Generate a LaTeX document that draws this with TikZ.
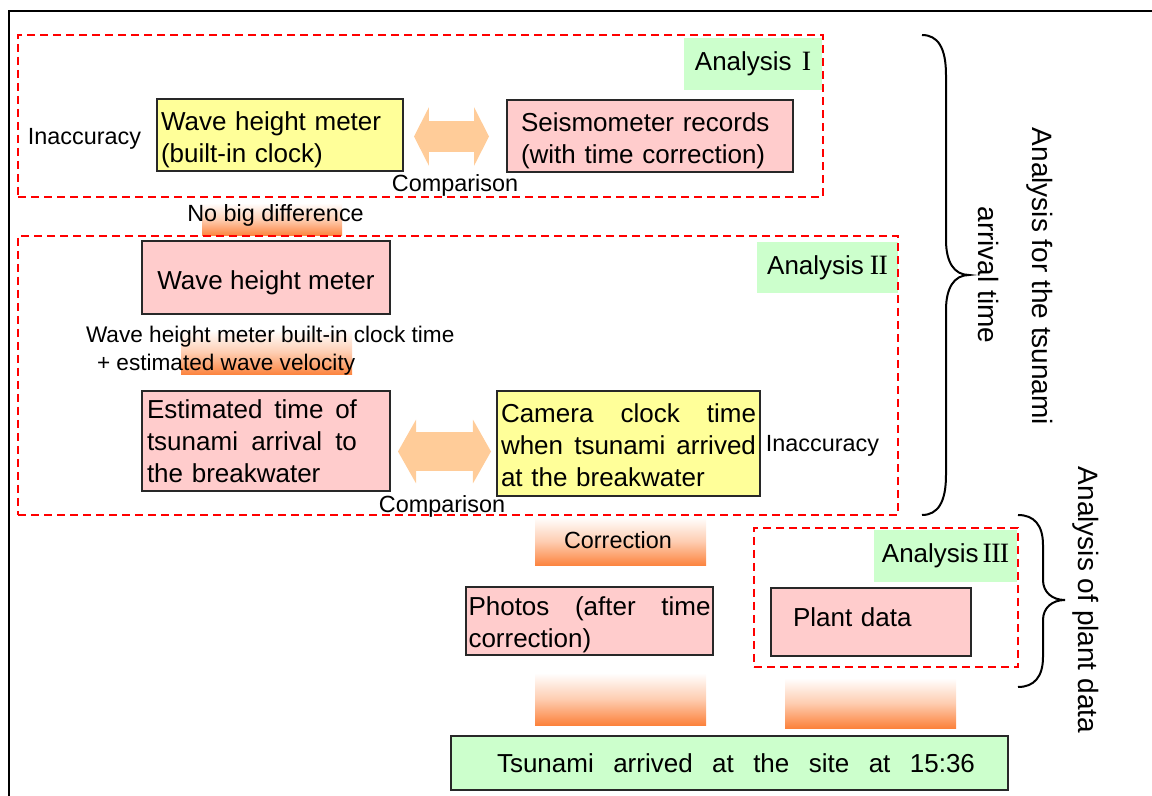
\documentclass[tikz,border=0pt]{standalone}
\usepackage{fontspec}
\setmainfont{Liberation Sans}
\newfontfamily\rmn{Liberation Serif}
\usetikzlibrary{shapes.arrows}
\definecolor{pinkf}{RGB}{255,204,204}
\definecolor{yelf}{RGB}{255,255,153}
\definecolor{grnf}{RGB}{204,255,204}
\definecolor{peach}{RGB}{255,204,153}
\definecolor{orng}{RGB}{252,130,60}
\definecolor{bord}{RGB}{40,40,40}
\newcommand\rnum[1]{{\rmn\fontsize{14}{16}\selectfont #1}}
\newcommand\spread[2]{\leavevmode\makebox[#1][l]{#2}}
\begin{document}
\begin{tikzpicture}[x=0.5pt,y=-0.5pt,
  every node/.style={font=\fontsize{13}{16}\selectfont, inner sep=0pt, outer sep=0pt},
  box/.style={draw=bord, line width=0.75pt},
  pinkbox/.style={box, fill=pinkf},
  yelbox/.style={box, fill=yelf},
  grnlab/.style={fill=grnf},
  dashbox/.style={draw=red, line width=1pt, dash pattern=on 4pt off 2.5pt},
  small/.style={font=\fontsize{11.7}{14}\selectfont},
  gradbar/.style={top color=white, bottom color=orng, middle color=orng!40},
  dblarr/.style={double arrow, fill=peach, draw=none, inner xsep=0pt},
  bracepath/.style={line width=1pt, draw=black},
  rottext/.style={font=\fontsize{14}{16}\selectfont, rotate=-90}
]
\useasboundingbox (0,0) rectangle (1152,796);

% gradient bars
\node[gradbar, minimum width=70pt, minimum height=16.5pt] (bar0) at (272,219.5) {};
\node[gradbar, minimum width=85.5pt, minimum height=22.5pt] (barw) at (266.5,352.5) {};
\node[gradbar, minimum width=85.5pt, minimum height=24.5pt] (barc) at (620.5,541.5) {};
\node[gradbar, minimum width=85.5pt, minimum height=26pt] (barp) at (620.5,699) {};
\node[gradbar, minimum width=85.5pt, minimum height=25pt] (barq) at (870.5,703) {};

% green labels
\node[grnlab, minimum width=69pt, minimum height=26pt] (anI) at (753,64) {Analysis\hspace{5pt}\rnum{I}};
\node[grnlab, minimum width=70.5pt, minimum height=25.5pt] (anII) at (827.5,267.5) {Analysis\hspace{3pt}\rnum{I\kern-0.4pt I}};
\node[grnlab, minimum width=71.5pt, minimum height=26pt] (anIII) at (945.5,556) {Analysis\hspace{2pt}\rnum{I\kern-0.4pt I\kern-0.4pt I}};

% dashed groups
\node[dashbox, minimum width=402.5pt, minimum height=81pt] (dI) at (420.5,116) {};
\node[dashbox, minimum width=440pt, minimum height=139.5pt] (dII) at (458,375.5) {};
\node[dashbox, minimum width=132pt, minimum height=69.5pt] (dIII) at (886,597.5) {};

% boxes
\node[yelbox, minimum width=123pt, minimum height=36pt, text width=119pt, align=left, text height=14.5pt] (wm1) at (280,135)
  {Wave height meter\\(built-in clock)};
\node[pinkbox, minimum width=143pt, minimum height=36pt, text width=129pt, align=left, text height=14.5pt] (seis) at (650,136)
  {Seismometer records\\(with time correction)};
\node[pinkbox, minimum width=124pt, minimum height=36.5pt, text height=14.5pt, text depth=2.7pt] (wm2) at (266,277.5)
  {Wave height meter};
\node[pinkbox, minimum width=124pt, minimum height=50pt, text width=119pt, align=left] (est) at (266,441)
  {\spread{105pt}{Estimated\hfill time\hfill of}\\\spread{105pt}{tsunami\hfill arrival\hfill to}\\the breakwater};
\node[yelbox, minimum width=131.5pt, minimum height=52.5pt, text width=127.5pt, align=left, text height=11.5pt] (cam) at (628.5,443.5)
  {\spread{127.5pt}{Camera\hfill clock\hfill time}\\\spread{127.5pt}{when\hfill tsunami\hfill arrived}\\at the breakwater};
\node[pinkbox, minimum width=123.5pt, minimum height=34pt, text width=121pt, align=left, text height=13.5pt] (photo) at (589.5,621)
  {\spread{121pt}{Photos\hfill (after\hfill time}\\correction)};
\node[pinkbox, minimum width=100pt, minimum height=34pt, text width=78pt, align=left, text height=9.5pt, text depth=4.7pt] (plant) at (871,622)
  {Plant data};
\node[box, fill=grnf, minimum width=278.5pt, minimum height=27pt] (tsu) at (729.5,763)
  {\hspace*{6.5pt}\spread{239pt}{Tsunami\hfill arrived\hfill at\hfill the\hfill site\hfill at\hfill 15:36}};

% double arrows
\node[dblarr, minimum height=37.5pt, inner ysep=7.5pt, double arrow head extend=7pt, double arrow tip angle=126] (arr1) at (451.5,136.5) {};
\node[dblarr, minimum height=46.5pt, inner ysep=9.5pt, double arrow head extend=6.25pt, double arrow tip angle=121] (arr2) at (444.5,451.5) {};

% small labels
\node[small] (inacc1) at (84.5,139) {Inaccuracy};
\node[small] (cmp1) at (455,185) {Comparison};
\node[small] (nbd) at (275.5,215) {No big difference};
\node[font=\fontsize{11.3}{14}\selectfont, anchor=west] (wl1) at (86,337) {Wave height meter built-in clock time};
\node[font=\fontsize{11.3}{14}\selectfont, anchor=west] (wl2) at (97,365) {+ estimated wave velocity};
\node[small] (cmp2) at (442,506) {Comparison};
\node[small] (inacc2) at (822.5,446) {Inaccuracy};
\node[small] (corr) at (618,540) {Correction};

% braces
\draw[bracepath] (922,35) .. controls (938,35) and (946,48) .. (946,75) -- (946,240)
  .. controls (946,262) and (954,275) .. (969,275)
  .. controls (954,275) and (946,288) .. (946,310) -- (946,475)
  .. controls (946,502) and (938,515) .. (922,515);
\draw[bracepath] (1018,515) .. controls (1034,515) and (1043,525) .. (1043,545) -- (1043,580)
  .. controls (1043,592) and (1052,600) .. (1065,600)
  .. controls (1052,600) and (1043,608) .. (1043,620) -- (1043,657)
  .. controls (1043,677) and (1034,687) .. (1018,687);

% rotated side labels
\node[rottext] (side1a) at (1040,276.5) {Analysis for the tsunami};
\node[rottext] (side1b) at (988,275) {arrival time};
\node[rottext] (side2) at (1086,600) {Analysis of plant data};

% frame
\draw[line width=1pt] (9,830) -- (9,11) -- (1180,11);
\end{tikzpicture}
\end{document}
